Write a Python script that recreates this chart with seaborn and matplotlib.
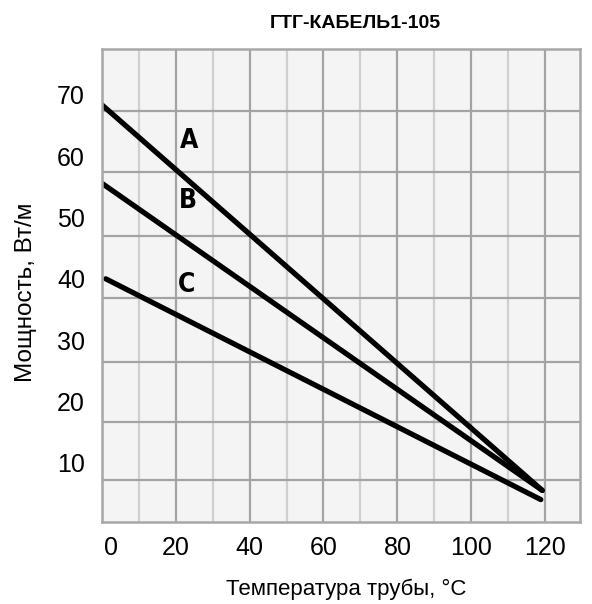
import pandas as pd
import seaborn as sns
import matplotlib.pyplot as plt
from matplotlib.transforms import ScaledTranslation

# curves (temperature, power)
cables = ['A', 'B', 'C']
temp_start = [0, 0, 1.1]
temp_end = [119.2, 119.2, 118.8]
power_start = [68.4, 55.6, 40.0]
power_end = [5.5, 5.5, 4.0]
label_x = [23.7, 23.2, 22.9]
label_y = [62.4, 52.7, 39.0]

x_ticks = [0, 20, 40, 60, 80, 100, 120]
y_ticks = [10, 20, 30, 40, 50, 60, 70]

rows = []
for c, x0, x1, y0, y1 in zip(cables, temp_start, temp_end, power_start, power_end):
    rows.append({'cable': c, 'temp': x0, 'power': y0})
    rows.append({'cable': c, 'temp': x1, 'power': y1})
df = pd.DataFrame(rows)

sns.set_style('white')
plt.rcParams['font.family'] = ['Liberation Sans', 'DejaVu Sans']
plt.rcParams['text.color'] = 'black'
plt.rcParams['axes.labelcolor'] = 'black'
plt.rcParams['xtick.color'] = 'black'
plt.rcParams['ytick.color'] = 'black'

fig = plt.figure(figsize=(5.92, 6.04), dpi=100)
ax = fig.add_axes([0.1718, 0.1363, 0.8079, 0.7818])
ax.set_facecolor('#f4f4f4')
ax.set_axisbelow(True)

sns.lineplot(data=df, x='temp', y='power', hue='cable',
             palette=['black'] * 3, linewidth=3.8, legend=False, ax=ax)

ax.set_xlim(0, 129.4)
ax.set_ylim(0.4, 77.4)

# grid: vertical dark every 20, light in between; horizontal sits off the labels
ax.set_xticks(x_ticks)
ax.set_xticks([10, 30, 50, 70, 90, 110], minor=True)
ax.set_yticks(y_ticks)
ax.set_yticks([7.2, 16.7, 26.5, 36.9, 47.0, 57.4, 67.4], minor=True)
ax.grid(True, which='major', axis='x', color='#a3a3a3', lw=1.6)
ax.grid(True, which='minor', axis='x', color='#cfcfcf', lw=1.6)
ax.grid(True, which='minor', axis='y', color='#a3a3a3', lw=1.6)
ax.tick_params(which='both', length=0, labelsize=18)
ax.tick_params(axis='y', pad=12)
ax.tick_params(axis='x', pad=10)

lbl = ax.get_xticklabels()[0]
lbl.set_transform(lbl.get_transform() + ScaledTranslation(0.09, 0, fig.dpi_scale_trans))

for s in ax.spines.values():
    s.set_color('#a8a8a8')
    s.set_linewidth(1.8)

for c, x, y in zip(cables, label_x, label_y):
    ax.text(x, y, c, ha='center', va='center', fontsize=19, fontweight='bold',
            family='DejaVu Sans', fontstretch='condensed')

ax.set_xlabel('Температура трубы, °C', fontsize=16)
ax.set_ylabel('Мощность, Вт/м', fontsize=17.5)
ax.xaxis.set_label_coords(0.511, -0.12)
ax.yaxis.set_label_coords(-0.136, 0.485)

fig.text(355 / 592, 1 - 23.3 / 604, 'ГТГ-КАБЕЛЬ1-105', ha='center', va='center',
         fontsize=14, fontweight='bold')

fig.savefig('out.png', dpi=100)
